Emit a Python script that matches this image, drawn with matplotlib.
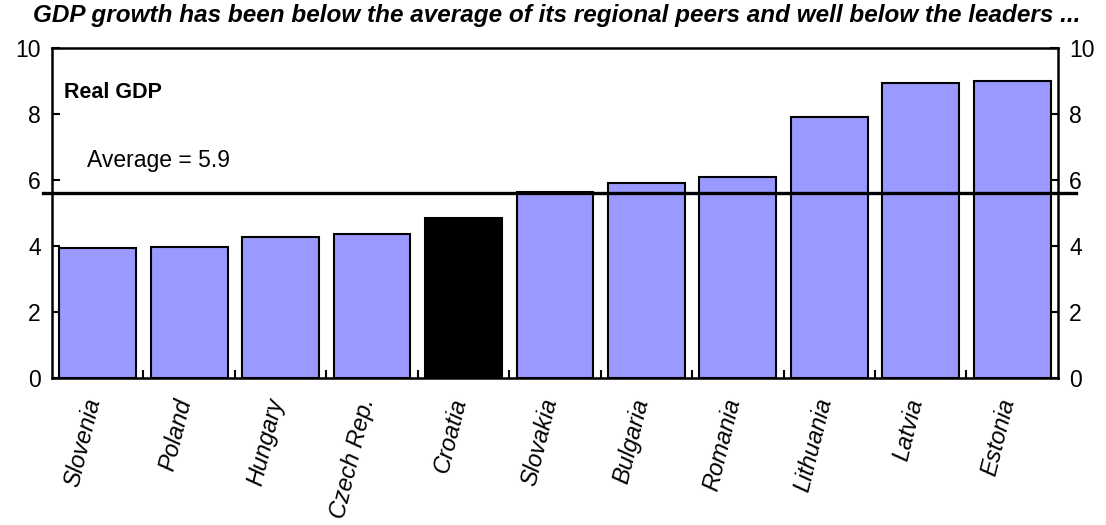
import matplotlib
matplotlib.use("Agg")
import matplotlib.pyplot as plt
from matplotlib.transforms import ScaledTranslation

plt.rcParams['font.family'] = ['Liberation Sans', 'DejaVu Sans']

countries = ["Slovenia", "Poland", "Hungary", "Czech Rep.", "Croatia", "Slovakia",
             "Bulgaria", "Romania", "Lithuania", "Latvia", "Estonia"]
growth = [3.94, 3.96, 4.27, 4.36, 4.85, 5.64, 5.9, 6.1, 7.9, 8.94, 9.0]
highlight = "Croatia"
average_line = 5.62
average_label = "Average = 5.9"

fig = plt.figure(figsize=(11.06, 5.25), dpi=100)
ax = fig.add_axes([0.047, 0.28, 0.9095, 0.6286])

colors = ["black" if c == highlight else "#9999FF" for c in countries]
x = list(range(len(countries)))
ax.bar(x, growth, width=0.84, color=colors, edgecolor="black", linewidth=1.5, zorder=2)

# average line sticks out past both spines
ax.plot([-0.6, len(countries) - 0.4 + 0.1], [average_line, average_line],
        color="black", linewidth=2.4, clip_on=False, zorder=3)

ax.set_xlim(-0.5, len(countries) - 0.5)
ax.set_ylim(0, 10)
ax.set_yticks([0, 2, 4, 6, 8, 10])

# category separators as minor ticks, pointing up
ax.set_xticks([i + 0.5 for i in range(len(countries) - 1)], minor=True)
ax.set_xticks(x)
ax.set_xticklabels(countries, rotation=76, ha="right", va="top",
                   fontstyle="italic", fontsize=17)
ax.tick_params(axis="x", which="major", length=0, pad=13)
ax.tick_params(axis="x", which="minor", direction="in", length=6, width=1.5)
ax.tick_params(axis="y", direction="in", length=6, width=1.5, labelsize=16.5,
               right=True, labelright=True, pad=8)

# nudge rotated labels a bit to the right
shift = ScaledTranslation(7 / 100, 0, fig.dpi_scale_trans)
for lbl in ax.get_xticklabels():
    lbl.set_transform(lbl.get_transform() + shift)

for s in ax.spines.values():
    s.set_linewidth(1.8)

ax.text(0.012, 0.865, "Real GDP", transform=ax.transAxes, fontsize=15.5,
        fontweight="bold", va="center", ha="left")
ax.text(0.035, 0.66, average_label, transform=ax.transAxes, fontsize=16.5,
        va="center", ha="left")

fig.text(0.503, 0.993, "GDP growth has been below the average of its regional peers and well below the leaders ...",
         ha="center", va="top", fontsize=17.5, fontweight="bold", fontstyle="italic")

fig.savefig("out.png", dpi=100)
